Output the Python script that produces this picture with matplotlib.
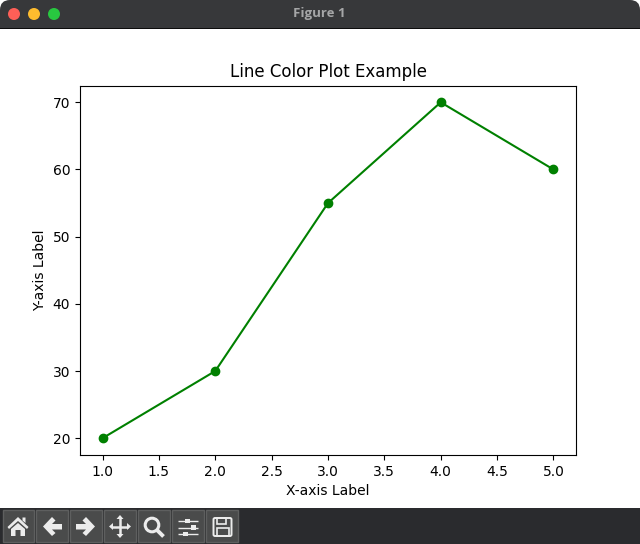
import matplotlib
matplotlib.use("Agg")
import matplotlib.pyplot as plt
from matplotlib.patches import Rectangle, Circle, Polygon, FancyBboxPatch

# data
x = [1, 2, 3, 4, 5]
y = [20, 30, 55, 70, 60]
window_title = "Figure 1"
plot_title = "Line Color Plot Example"
x_label = "X-axis Label"
y_label = "Y-axis Label"

W, H = 640, 544
fig = plt.figure(figsize=(W / 100, H / 100), dpi=100, facecolor="white")

# axes box in pixels from the screenshot
left, right, top, bottom = 80, 576, 85.5, 455
ax = fig.add_axes([left / W, 1 - bottom / H, (right - left) / W, (bottom - top) / H])
ax.plot(x, y, color="green", marker="o")
ax.set_title(plot_title)
ax.set_xlabel(x_label)
ax.set_ylabel(y_label)

# window chrome, drawn in pixel coordinates
ui = fig.add_axes([0, 0, 1, 1], zorder=5)
ui.set_xlim(0, W)
ui.set_ylim(H, 0)
ui.axis("off")
ui.patch.set_alpha(0)

# title bar
ui.add_patch(FancyBboxPatch((0, 0), W, 40, boxstyle="round,pad=0,rounding_size=10", fc="#37383a", ec="none"))
ui.add_patch(Rectangle((0, 28), W, 14, fc="white", ec="none"))
ui.add_patch(Rectangle((0, 27.6), W, 1.2, fc="#0c0c0c", ec="none"))
for cx, col in [(14, "#fe5f57"), (34, "#febc2e"), (54, "#28c840")]:
    ui.add_patch(Circle((cx, 14), 6, fc=col, ec="none"))
ui.text(319.5, 14, window_title, color="#a5a6a7", fontsize=9.5, fontweight="bold",
        ha="center", va="center", family="Open Sans")

# toolbar
ui.add_patch(Rectangle((0, 508), W, 36, fc="#2a2b2e", ec="none"))
for bx in [3, 36, 70, 104, 138, 172, 206]:
    w = 31 if bx == 3 else 32
    ui.add_patch(Rectangle((bx, 510), w, 32, fc="#4a4b4b", ec="#5e5f5f", lw=1))

ic = "#ececec"


def poly(pts):
    ui.add_patch(Polygon(pts, closed=True, fc=ic, ec="none"))


def seg(x0, y0, x1, y1, lw=1.5, col=ic):
    ui.plot([x0, x1], [y0, y1], color=col, lw=lw, solid_capstyle="butt")


# home
poly([(7.5, 527), (18, 517), (28.5, 527), (27, 529), (18, 521), (9, 529)])
poly([(11, 529), (18, 523), (25, 529), (25, 536), (20.5, 536), (20.5, 530), (15.5, 530), (15.5, 536), (11, 536)])
poly([(22.5, 517.5), (25.5, 517.5), (25.5, 523), (22.5, 520.5)])

# back
poly([(43, 526.5), (52, 517), (55.5, 520.5), (52, 524), (62, 524), (62, 529.5), (52, 529.5), (55.5, 533), (52, 536)])
# forward
poly([(95, 526.5), (86, 517), (82.5, 520.5), (86, 524), (76, 524), (76, 529.5), (86, 529.5), (82.5, 533), (86, 536)])

# move
seg(120, 518, 120, 535, lw=1.8)
seg(112, 526.5, 128, 526.5, lw=1.8)
poly([(120, 515), (116.5, 519), (123.5, 519)])
poly([(120, 538), (116.5, 534), (123.5, 534)])
poly([(109, 526.5), (113, 523), (113, 530)])
poly([(131, 526.5), (127, 523), (127, 530)])

# zoom
ui.add_patch(Circle((152, 525), 6.8, fc="none", ec=ic, lw=2.2))
seg(157, 530, 163.5, 536.5, lw=2.8)

# sliders
for sy, kx in [(521, 187), (527.5, 193), (534, 185)]:
    seg(178, sy, 198, sy, lw=1)
    ui.add_patch(Rectangle((kx - 2.5, sy - 2.2), 5, 4.4, fc=ic, ec="none"))

# save
ui.add_patch(FancyBboxPatch((213.5, 518), 18, 18, boxstyle="round,pad=0,rounding_size=1.5", fc="none", ec=ic, lw=1.4))
ui.add_patch(Rectangle((217, 518), 9, 6, fc="none", ec=ic, lw=1.2))
ui.add_patch(Rectangle((216.5, 528), 12, 8, fc="none", ec=ic, lw=1.2))

fig.savefig("out.png", dpi=100)
